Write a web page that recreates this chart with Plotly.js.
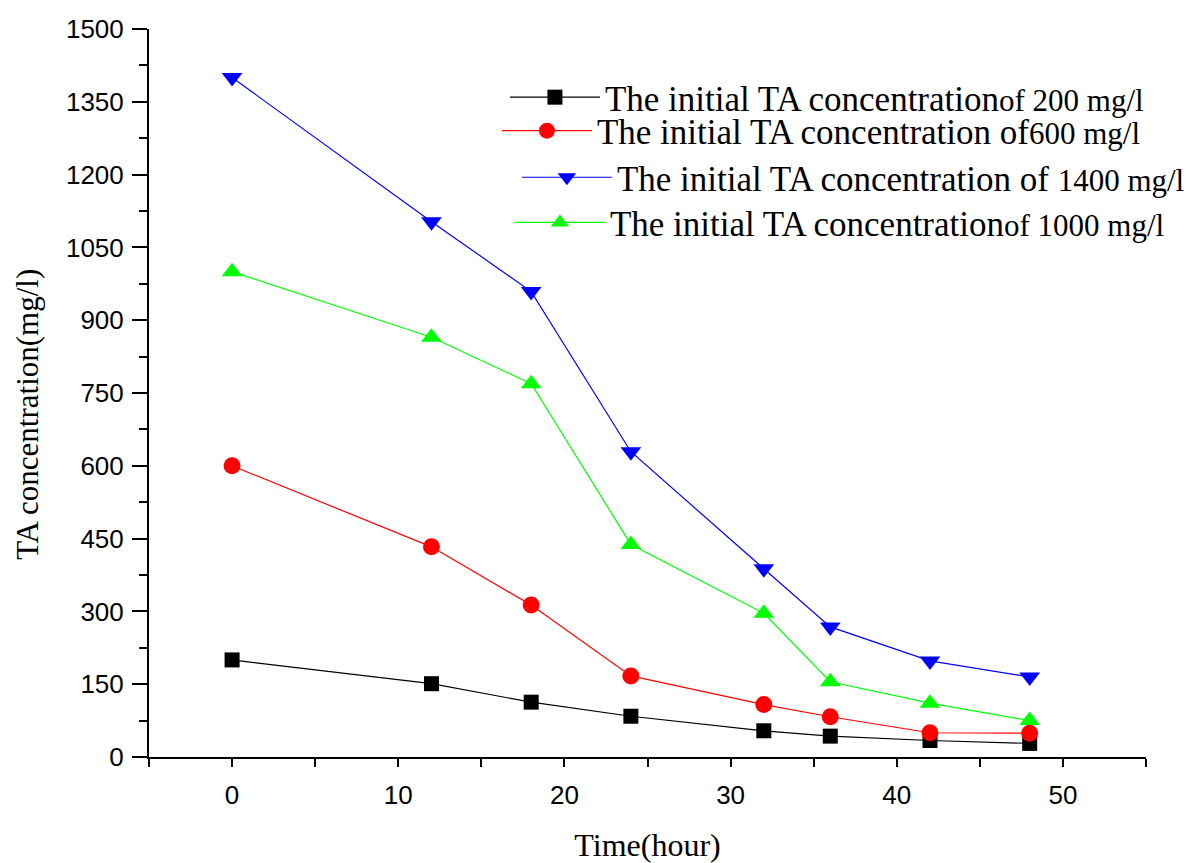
<!DOCTYPE html>
<html>
<head>
<meta charset="utf-8">
<script src="https://cdn.plot.ly/plotly-3.0.1.min.js"></script>
<style>html,body{margin:0;padding:0;background:#fff;}#chart{width:1193px;height:863px;}</style>
</head>
<body>
<div id="chart"></div>
<script>
// Data
const timeHours = [0, 12, 18, 24, 32, 36, 42, 48];
const conc200 = [200, 151, 113, 84, 54, 43, 34, 28];
const conc600 = [600, 433, 313, 167, 108, 83, 50, 49];
const conc1400 = [1400, 1103, 959, 629, 388, 268, 198, 165];
const conc1000 = [1000, 865, 769, 438, 296, 155, 111, 75];

const mainLabel = 'The initial TA concentration';
const suffixStyle = 'font-size:31px';
const names = {
  c200: mainLabel + '<span style="' + suffixStyle + '">of 200 mg/l</span>',
  c600: mainLabel + ' of<span style="' + suffixStyle + '">600 mg/l</span>',
  c1400: mainLabel + ' of <span style="' + suffixStyle + '">1400 mg/l</span>',
  c1000: mainLabel + '<span style="' + suffixStyle + '">of 1000 mg/l</span>'
};

const traces = [
  {x: timeHours, y: conc200, name: names.c200, legend: 'legend', mode: 'lines+markers',
   line: {color: '#000000', width: 1.2}, marker: {symbol: 'square', size: 15, color: '#000000'}},
  {x: timeHours, y: conc600, name: names.c600, legend: 'legend2', mode: 'lines+markers',
   line: {color: '#FF0000', width: 1.2}, marker: {symbol: 'circle', size: 17, color: '#FF0000'}},
  {x: timeHours, y: conc1400, name: names.c1400, legend: 'legend3', mode: 'lines+markers',
   line: {color: '#0000FF', width: 1.2}, marker: {symbol: 'triangle-down', size: 18, color: '#0000FF'}},
  {x: timeHours, y: conc1000, name: names.c1000, legend: 'legend4', mode: 'lines+markers',
   line: {color: '#00FF00', width: 1.2}, marker: {symbol: 'triangle-up', size: 18, color: '#00FF00'}}
];

const legendBase = {
  xanchor: 'left', yanchor: 'middle', bgcolor: 'rgba(0,0,0,0)', borderwidth: 0,
  font: {family: 'Liberation Serif, Times New Roman, serif', size: 35, color: '#000'},
  itemwidth: 90
};

const layout = {
  width: 1193, height: 863,
  margin: {l: 149, r: 47, t: 29, b: 106, autoexpand: false},
  paper_bgcolor: '#ffffff', plot_bgcolor: '#ffffff',
  showlegend: true,
  xaxis: {
    range: [-5, 55], tickmode: 'linear', tick0: 0, dtick: 10,
    showgrid: false, zeroline: false, automargin: false,
    showline: true, linecolor: '#000', linewidth: 2,
    ticks: 'outside', ticklen: 8, tickwidth: 2, tickcolor: '#000',
    minor: {tickmode: 'linear', tick0: -5, dtick: 5, ticks: 'outside', ticklen: 8, tickwidth: 2, tickcolor: '#000', showgrid: false},
    tickfont: {family: 'Liberation Sans, Arial, sans-serif', size: 26, color: '#000'},
    ticklabelstandoff: 6,
    title: {text: 'Time(hour)', font: {family: 'Liberation Serif, Times New Roman, serif', size: 32, color: '#000'}, standoff: 28}
  },
  yaxis: {
    range: [0, 1500], tickmode: 'linear', tick0: 0, dtick: 150,
    showgrid: false, zeroline: false, automargin: false,
    showline: true, linecolor: '#000', linewidth: 2,
    ticks: 'outside', ticklen: 15, tickwidth: 2, tickcolor: '#000',
    minor: {tickmode: 'linear', tick0: 75, dtick: 150, ticks: 'outside', ticklen: 8, tickwidth: 2, tickcolor: '#000', showgrid: false},
    tickfont: {family: 'Liberation Sans, Arial, sans-serif', size: 26, color: '#000'},
    ticklabelstandoff: 3
  },
  annotations: [{
    text: 'TA concentration(mg/l)', textangle: -90,
    xref: 'paper', yref: 'paper', x: 0, y: 0.47, xanchor: 'center', yanchor: 'middle',
    xshift: -121, showarrow: false,
    font: {family: 'Liberation Serif, Times New Roman, serif', size: 31, color: '#000'}
  }],
  legend: Object.assign({}, legendBase, {x: 0.357, y: 0.906}),
  legend2: Object.assign({}, legendBase, {x: 0.349, y: 0.860}),
  legend3: Object.assign({}, legendBase, {x: 0.369, y: 0.796}),
  legend4: Object.assign({}, legendBase, {x: 0.362, y: 0.734})
};

Plotly.newPlot('chart', traces, layout, {displayModeBar: false, staticPlot: true});
</script>
</body>
</html>
